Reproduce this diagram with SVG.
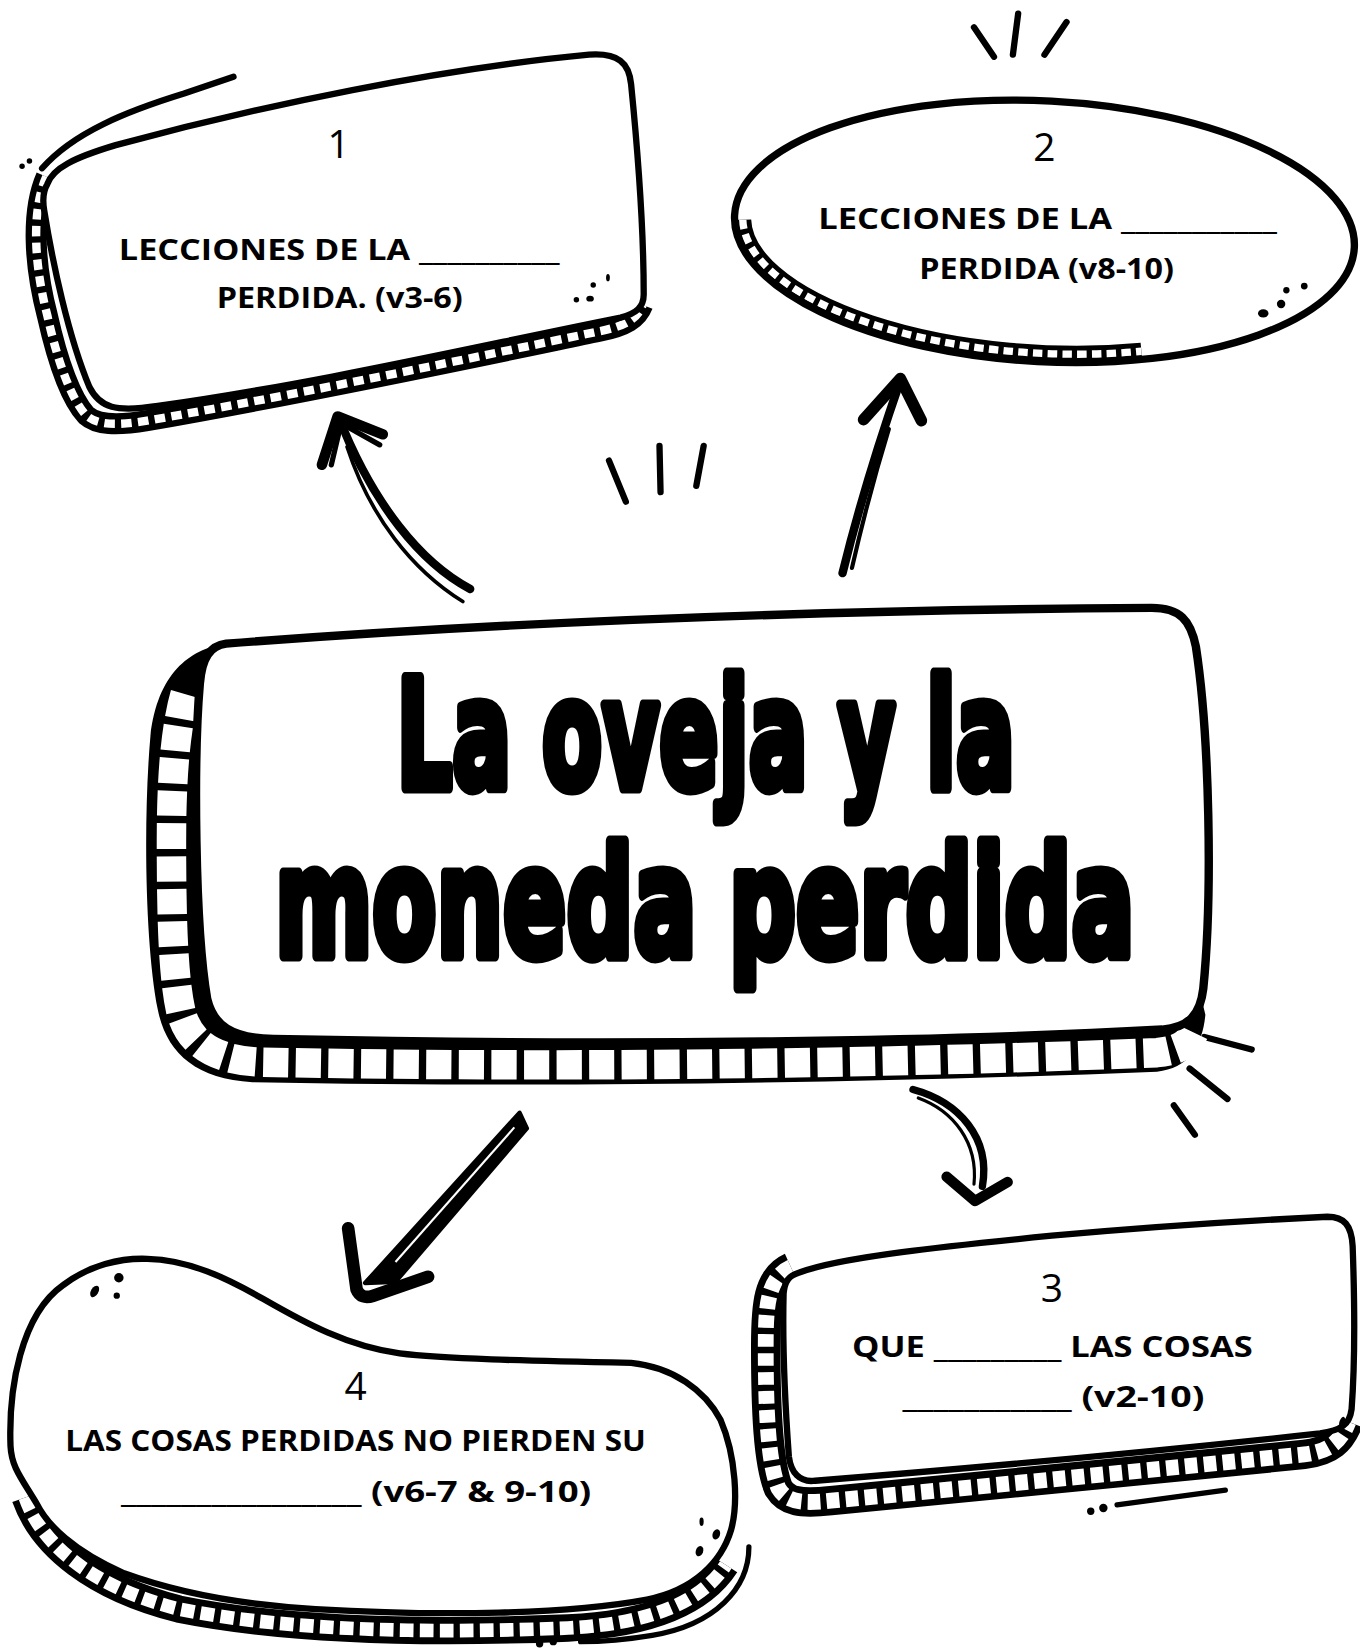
<svg xmlns="http://www.w3.org/2000/svg" width="1360" height="1649" viewBox="0 0 1360 1649">
<style>
.ol{fill:#fff;stroke:#000;stroke-linejoin:round}
.olo{fill:none;stroke:#000;stroke-linejoin:round}
.bb{fill:none;stroke:#000;stroke-linecap:butt;stroke-linejoin:round}
.bw{fill:none;stroke:#fff;stroke-linecap:butt;stroke-linejoin:round}
.ink{fill:none;stroke:#000;stroke-linecap:round;stroke-linejoin:round}
.dot{fill:#000}
.lbl{font-family:'Open Sans','Noto Sans','Liberation Sans',sans-serif;font-weight:700;font-size:27px;fill:#000}
.num{font-family:'Open Sans','Noto Sans','Liberation Sans',sans-serif;font-weight:400;font-size:37px;fill:#000;text-anchor:middle}
.title{font-family:'DejaVu Sans','Liberation Sans',sans-serif;font-weight:700;font-size:140px;fill:#000;stroke:#000;stroke-width:10;stroke-linejoin:round;text-anchor:middle}
</style>
<rect width="1360" height="1649" fill="#fff"/>
<g transform="scale(1.05182 1.05166)">

<g id="connectors">
  <path class="ink" stroke-width="8" d="M447,560 C400,535 355,480 322,397"/>
  <path class="ink" stroke-width="3.5" d="M440,572 C392,542 352,492 330,425"/>
  <path class="ink" stroke-width="10" d="M306,442 L321,396 L364,413"/>
  <path class="ink" stroke-width="5" d="M315,442 L323,408 M325,403 L361,423"/>
  <path class="ink" stroke-width="8" d="M801,545 Q822,460 856,362"/>
  <path class="ink" stroke-width="4" d="M810,540 Q826,470 845,408"/>
  <path class="ink" stroke-width="11" d="M821,399 L856,360 L876,400"/>
  <polygon fill="#000" stroke="#000" stroke-width="4" stroke-linejoin="round" points="494,1058 347,1220 376,1219 501,1073"/>
  <path fill="none" stroke="#fff" stroke-width="2" d="M489,1072 L376,1200"/>
  <path class="ink" stroke-width="12" d="M331,1168 L339,1226 Q343,1236 355,1232 L407,1214"/>
  <path class="ink" stroke-width="7" d="M868,1036 C912,1048 942,1082 934,1128"/>
  <path class="ink" stroke-width="3" d="M873,1044 C906,1056 930,1086 926,1126"/>
  <path class="ink" stroke-width="10" d="M900,1119 L927,1142 L958,1124"/>
</g>

<g id="rays">
  <path class="ink" stroke-width="6" d="M579,438 L595,477"/>
  <path class="ink" stroke-width="6" d="M627,424 L628,468"/>
  <path class="ink" stroke-width="6" d="M669,424 L662,462"/>
  <path class="ink" stroke-width="6" d="M926,26 L945,54"/>
  <path class="ink" stroke-width="6" d="M968,13 L963,52"/>
  <path class="ink" stroke-width="6" d="M1014,21 L993,52"/>
  <path class="ink" stroke-width="6" d="M1145,986 L1190,998"/>
  <path class="ink" stroke-width="6" d="M1131,1016 L1167,1045"/>
  <path class="ink" stroke-width="6" d="M1116,1051 L1136,1079"/>
</g>

<g id="node-1">
  <path class="ink" stroke-width="6" d="M40,160 C70,126 120,106 175,89 L222,73"/>
  <circle class="dot" cx="21" cy="158" r="2.6"/>
  <circle class="dot" cx="28" cy="153" r="2.6"/>
  <path class="bb" stroke-width="20" d="M44,168 C30,200 32,250 45,300 C55,345 68,380 82,395 C92,404 110,405 140,400 C300,372 450,340 570,315 C595,310 606,303 611,290"/>
  <path class="bw" stroke-width="8" stroke-dasharray="10 6" d="M44,168 C30,200 32,250 45,300 C55,345 68,380 82,395 C92,404 110,405 140,400 C300,372 450,340 570,315 C595,310 606,303 611,290"/>
  <path class="ol" stroke-width="6" d="M45,175 C50,160 70,150 110,138 C250,100 420,65 560,52 C588,50 598,60 600,80 C606,140 612,220 612,280 C612,292 605,298 590,302 C450,330 300,365 150,386 C110,392 95,388 85,368 C65,320 50,250 42,200 C40,188 42,180 45,175 Z"/>
  <circle class="dot" cx="548" cy="285" r="2.6"/>
  <ellipse class="dot" cx="561" cy="284" rx="3.6" ry="2.8"/>
  <circle class="dot" cx="564" cy="271" r="2.6"/>
  <ellipse class="dot" cx="578" cy="264" rx="1.8" ry="3.5"/>
  <text class="num" x="322" y="150">1</text>
  <text class="lbl" x="113" y="247" textLength="419" lengthAdjust="spacingAndGlyphs">LECCIONES DE LA __________</text>
  <text class="lbl" x="206" y="293" textLength="234" lengthAdjust="spacingAndGlyphs">PERDIDA. (v3-6)</text>
</g>

<g id="node-2">
  <ellipse fill="#fff" cx="993" cy="220" rx="295" ry="124" transform="rotate(3 993 220)"/>
  <g transform="rotate(3 993 220)">
    <path class="bb" stroke-width="16" d="M706,224 A287 116 0 0 0 1091,329"/>
    <path class="bw" stroke-width="7" stroke-dasharray="9 5" d="M706,224 A287 116 0 0 0 1091,329"/>
  </g>
  <ellipse class="olo" stroke-width="7" cx="993" cy="220" rx="295" ry="124" transform="rotate(3 993 220)"/>
  <ellipse class="dot" cx="1201" cy="298" rx="5" ry="4"/>
  <circle class="dot" cx="1218" cy="289" r="4"/>
  <circle class="dot" cx="1223" cy="276" r="3"/>
  <circle class="dot" cx="1240" cy="272" r="3.2"/>
  <text class="num" x="993" y="153">2</text>
  <text class="lbl" x="778" y="218" textLength="436" lengthAdjust="spacingAndGlyphs">LECCIONES DE LA ___________</text>
  <text class="lbl" x="874" y="265" textLength="242" lengthAdjust="spacingAndGlyphs">PERDIDA (v8-10)</text>
</g>

<g id="node-center">
  <path fill="#000" d="M214,612 C180,618 150,640 143,700 C136,780 138,900 150,960 C158,1000 185,1026 240,1029 C500,1034 800,1031 1100,1019 C1130,1016 1143,995 1146,965 L1140,940 L197,950 Z"/>
  <path class="bw" stroke-width="28" stroke-dasharray="24 7" d="M176,660 C166,695 163,745 163,800 C163,880 165,930 172,962 C180,992 203,1008 248,1010 C500,1015 800,1013 1100,1001 C1122,999 1131,992 1136,980"/>
  <path class="ol" stroke-width="8" d="M215,612 C500,590 800,580 1095,578 C1122,578 1132,590 1137,615 C1150,700 1153,850 1144,940 C1141,965 1130,977 1105,979 C900,990 600,995 260,988 C220,987 203,975 197,950 C185,880 184,720 190,650 C192,625 200,614 215,612 Z"/>
  <text class="title" transform="translate(671,749) scale(0.595,1.03)">La oveja y la</text>
  <text class="title" transform="translate(670,909) scale(0.635,1.03)">moneda perdida</text>
</g>

<g id="node-3">
  <path class="bb" stroke-width="28" d="M752,1205 C730,1215 728,1240 728,1280 C728,1340 730,1390 740,1415 C748,1428 760,1430 790,1427 C950,1412 1100,1397 1240,1383 C1265,1380 1275,1370 1282,1352"/>
  <path class="bw" stroke-width="15" stroke-dasharray="12 6" d="M752,1205 C730,1215 728,1240 728,1280 C728,1340 730,1390 740,1415 C748,1428 760,1430 790,1427 C950,1412 1100,1397 1240,1383 C1265,1380 1275,1370 1282,1352"/>
  <path class="ol" stroke-width="6" d="M760,1210 C800,1195 900,1185 1000,1175 C1100,1166 1200,1160 1262,1157 C1278,1157 1285,1165 1286,1185 C1288,1240 1288,1300 1285,1340 C1283,1355 1275,1360 1255,1363 C1100,1380 900,1398 775,1408 C760,1410 752,1400 750,1385 C746,1330 744,1270 745,1230 C746,1218 750,1213 760,1210 Z"/>
  <circle class="dot" cx="1037" cy="1437" r="3.5"/>
  <circle class="dot" cx="1049" cy="1434" r="4"/>
  <path class="ink" stroke-width="5" d="M1062,1431 L1165,1417"/>
  <ellipse class="dot" cx="1276" cy="1352" rx="2.5" ry="5" transform="rotate(20 1276 1352)"/>
  <text class="num" x="1000" y="1238">3</text>
  <text class="lbl" x="810" y="1290" textLength="381" lengthAdjust="spacingAndGlyphs">QUE _________ LAS COSAS</text>
  <text class="lbl" x="858" y="1338" textLength="287" lengthAdjust="spacingAndGlyphs">___________ (v2-10)</text>
</g>

<g id="node-4">
  <path class="bb" stroke-width="26" d="M24,1424 C40,1470 90,1510 170,1530 C280,1552 420,1553 540,1548 C620,1544 668,1522 690,1488"/>
  <path class="bw" stroke-width="13" stroke-dasharray="13 6" d="M24,1424 C40,1470 90,1510 170,1530 C280,1552 420,1553 540,1548 C620,1544 668,1522 690,1488"/>
  <path class="ol" stroke-width="6" d="M10,1375 C8,1320 20,1250 60,1222 C85,1203 115,1196 140,1197 C180,1198 215,1215 250,1235 C290,1258 330,1280 380,1287 C420,1292 500,1294 600,1296 C640,1300 670,1322 685,1350 C700,1385 702,1430 695,1455 C686,1485 660,1512 615,1521 C540,1535 420,1537 300,1530 C230,1526 170,1515 118,1496 C70,1475 45,1450 35,1430 C20,1405 11,1395 10,1375 Z"/>
  <path class="ink" stroke-width="5" d="M712,1471 C712,1510 680,1545 620,1555 C590,1560 570,1561 552,1561"/>
  <circle class="dot" cx="513" cy="1563" r="3.5"/>
  <circle class="dot" cx="526" cy="1561" r="3.5"/>
  <ellipse class="dot" cx="90" cy="1228" rx="3.5" ry="6" transform="rotate(30 90 1228)"/>
  <circle class="dot" cx="113" cy="1215" r="4.5"/>
  <circle class="dot" cx="111" cy="1232" r="3"/>
  <ellipse class="dot" cx="667" cy="1447" rx="2" ry="4"/>
  <ellipse class="dot" cx="681" cy="1459" rx="3.5" ry="5" transform="rotate(20 681 1459)"/>
  <ellipse class="dot" cx="665" cy="1475" rx="3.5" ry="5" transform="rotate(20 665 1475)"/>
  <text class="num" x="338" y="1331">4</text>
  <text class="lbl" x="62" y="1380" textLength="552" lengthAdjust="spacingAndGlyphs">LAS COSAS PERDIDAS NO PIERDEN SU</text>
  <text class="lbl" x="115" y="1428" textLength="447" lengthAdjust="spacingAndGlyphs">________________ (v6-7 &amp; 9-10)</text>
</g>

</g>
</svg>
